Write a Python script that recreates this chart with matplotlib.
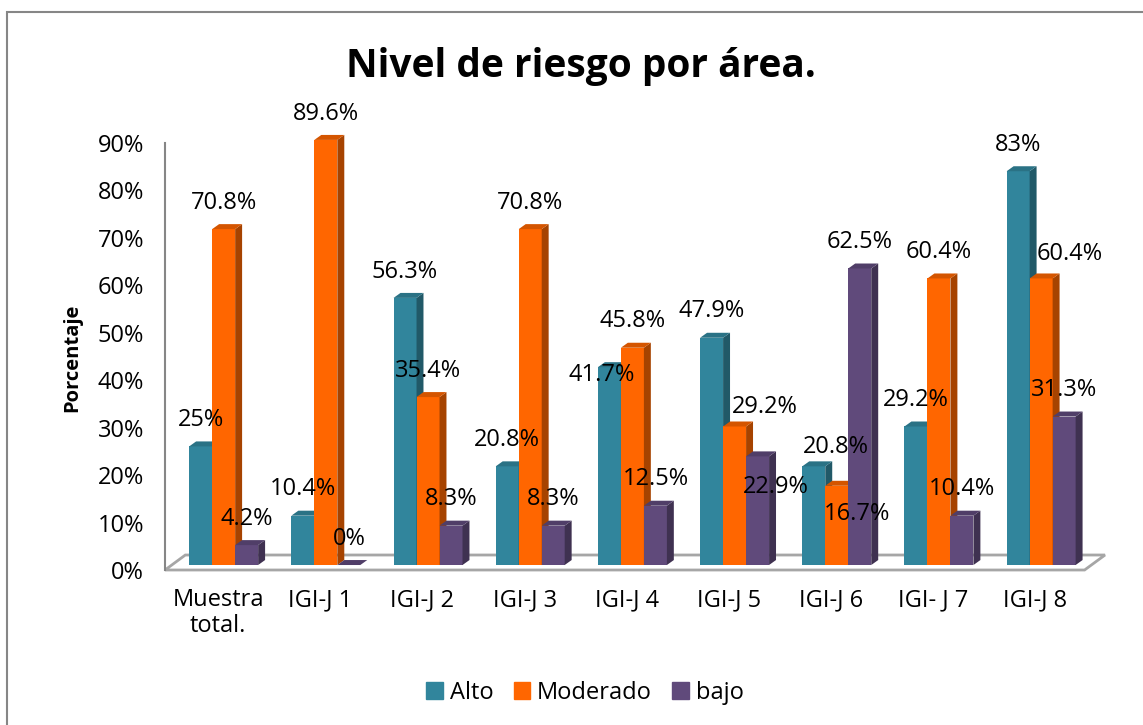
import matplotlib
matplotlib.use("Agg")
import matplotlib.pyplot as plt
from matplotlib.patches import Polygon, Rectangle, Patch

plt.rcParams['font.family'] = ['Open Sans', 'DejaVu Sans']

# ── Data ─────────────────────────────────────────────────────
categorias = ["Muestra\ntotal.", "IGI-J 1", "IGI-J 2", "IGI-J 3", "IGI-J 4",
              "IGI-J 5", "IGI-J 6", "IGI- J 7", "IGI-J 8"]
series   = ["Alto", "Moderado", "bajo"]
alto     = [25, 10.4, 56.3, 20.8, 41.7, 47.9, 20.8, 29.2, 83]
moderado = [70.8, 89.6, 35.4, 70.8, 45.8, 29.2, 16.7, 60.4, 60.4]
bajo     = [4.2, 0, 8.3, 8.3, 12.5, 22.9, 62.5, 10.4, 31.3]
yticks   = [0, 10, 20, 30, 40, 50, 60, 70, 80, 90]

# front / side / top colours per series
colores = [("#31859C", "#215968", "#2A7285"),
           ("#FF6600", "#A64300", "#D45500"),
           ("#604A7B", "#3F3151", "#503E68")]

# label nudges copied from the original (series, group): (dx, dy)
ajustes = {(0, 4): (-0.08, -7.1), (1, 5): (0.30, -1.5), (2, 5): (0.18, -12.1),
           (0, 6): (0.22, -1.4), (1, 6): (0.20, -11.6), (1, 8): (0.28, -0.4)}

FS = 17
W, H = 1143, 725
fig = plt.figure(figsize=(W / 100, H / 100), dpi=100)
fig.patches.append(Rectangle((7 / W, -0.1), 1.2, 1 - 12 / H + 0.1, transform=fig.transFigure,
                             fill=False, edgecolor="#868686", lw=1.5))

ax = fig.add_axes([165 / W, 155 / H, 940 / W, 427 / H])
ax.set_xlim(-0.519, 8.68)
ax.set_ylim(0, 90)

# ── Floor ─────────────────────────────────────────────────────
floor = Polygon([(-0.519, 0), (8.48, 0), (8.68, 3.16), (-0.32, 3.16)], closed=True,
                facecolor="white", edgecolor="#a6a6a6", lw=2, zorder=1, clip_on=False)
ax.add_patch(floor)

# ── 3D-looking bars ───────────────────────────────────────────
w, dx, dy, base, shift = 0.225, 0.068, 1.05, 1.05, 0.055
valores = [alto, moderado, bajo]
for i in range(len(categorias)):
    for k, vals in enumerate(valores):
        v = vals[i]
        front, side, top = colores[k]
        xc = i + shift + (k - 1) * w
        x0, x1 = xc - w / 2, xc + w / 2
        z = 3 + i * 3 + k
        ax.bar(xc, v, width=w, bottom=base, color=front, zorder=z, lw=0, clip_on=False)
        t = base + v
        ax.add_patch(Polygon([(x1, base), (x1, t), (x1 + dx, t + dy), (x1 + dx, base + dy)],
                             closed=True, facecolor=side, lw=0, zorder=z, clip_on=False))
        ax.add_patch(Polygon([(x0, t), (x1, t), (x1 + dx, t + dy), (x0 + dx, t + dy)],
                             closed=True, facecolor=top, lw=0, zorder=z, clip_on=False))
        ddx, ddy = ajustes.get((k, i), (0, 0))
        ax.text(xc + ddx, v + 6.6 + ddy, f"{v:g}%", ha="center", va="center",
                fontsize=FS, zorder=100, clip_on=False)

# ── Axes styling ──────────────────────────────────────────────
for s in ["top", "right", "bottom"]:
    ax.spines[s].set_visible(False)
ax.spines["left"].set_color("#868686")
ax.spines["left"].set_linewidth(1.5)
ax.set_yticks(yticks)
ax.set_yticklabels([f"{t}%" for t in yticks])
ax.set_xticks(range(len(categorias)))
ax.set_xticklabels(categorias, multialignment="center", linespacing=1.1)
ax.tick_params(axis="y", length=0, pad=15, labelsize=FS)
ax.tick_params(axis="x", length=0, pad=13, labelsize=FS)

fig.text(581 / W, 1 - 66 / H, "Nivel de riesgo por área.", ha="center", va="center",
         fontsize=28, fontweight="bold")
fig.text(72 / W, 1 - 358 / H, "Porcentaje", rotation=90, ha="center", va="center",
         fontsize=14.5, fontweight="bold")

handles = [Patch(color=c[0], label=s) for c, s in zip(colores, series)]
fig.legend(handles=handles, loc="center", bbox_to_anchor=(585 / W, 1 - 693 / H), ncol=3,
           frameon=False, fontsize=FS, handlelength=0.7, handleheight=0.7,
           handletextpad=0.3, columnspacing=0.85)

plt.savefig("out.png", dpi=100)
